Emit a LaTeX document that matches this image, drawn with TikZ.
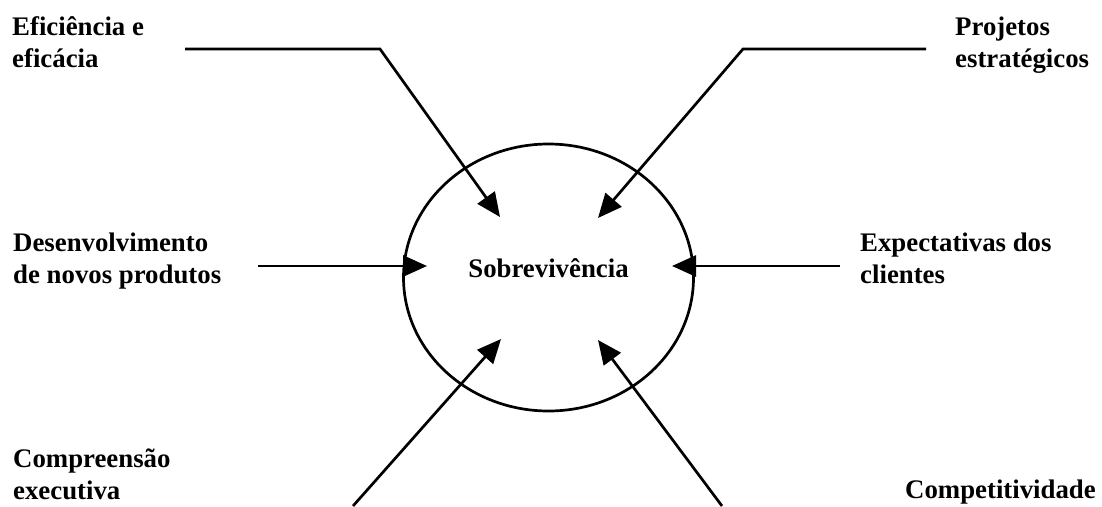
\documentclass[tikz,border=0pt]{standalone}
\usepackage{fontspec}
\setmainfont{Liberation Serif}
\usetikzlibrary{arrows.meta,shapes.geometric}
\begin{document}
\begin{tikzpicture}[x=1pt,y=-1pt,
  lbl/.style={font=\fontsize{26.8}{32}\selectfont\bfseries, inner sep=0pt, align=left, anchor=base west},
  link/.style={line width=2.7pt, -{Triangle[length=24pt,width=21pt]}, line join=miter},
  ring/.style={draw, ellipse, line width=2.7pt, inner sep=0pt, minimum width=290pt, minimum height=267pt}]
\useasboundingbox (0,0) rectangle (1102,506);
\fill[white] (0,0) rectangle (1102,506);
% centre
\node[ring] (sob) at (548.5,277.5) {};
\node[font=\fontsize{26.8}{32}\selectfont\bfseries, inner sep=0pt, anchor=base] (sobt) at (548.5,277) {Sobreviv\^encia};
% labels (anchor at baseline of the last line)
\node[lbl] (ef) at (12,67) {Eficiência e\\eficácia};
\node[lbl] (proj) at (955,67) {Projetos\\estratégicos};
\node[lbl] (des) at (13,283) {Desenvolvimento\\de novos produtos};
\node[lbl] (exp) at (860,283) {Expectativas dos\\clientes};
\node[lbl] (comp) at (13,499) {Compreensão\\executiva};
\node[lbl] (compet) at (905,498) {Competitividade};
% connector points
\coordinate (efs) at (185,49);
\coordinate (efk) at (380,49);
\coordinate (eft) at (500,217);
\coordinate (prs) at (926,49);
\coordinate (prk) at (743,49);
\coordinate (prt) at (598,218);
\coordinate (des s) at (258,266);
\coordinate (des t) at (427,266);
\coordinate (exs) at (840,266);
\coordinate (ext) at (672,266);
\coordinate (cos) at (353,506);
\coordinate (cot) at (501,339);
\coordinate (cps) at (722,506);
\coordinate (cpt) at (598,340);
% connectors
\draw[link] (efs) -- (efk) -- (eft);
\draw[link] (prs) -- (prk) -- (prt);
\draw[link] (des s) -- (des t);
\draw[link] (exs) -- (ext);
\draw[link] (cos) -- (cot);
\draw[link] (cps) -- (cpt);
\end{tikzpicture}
\end{document}
